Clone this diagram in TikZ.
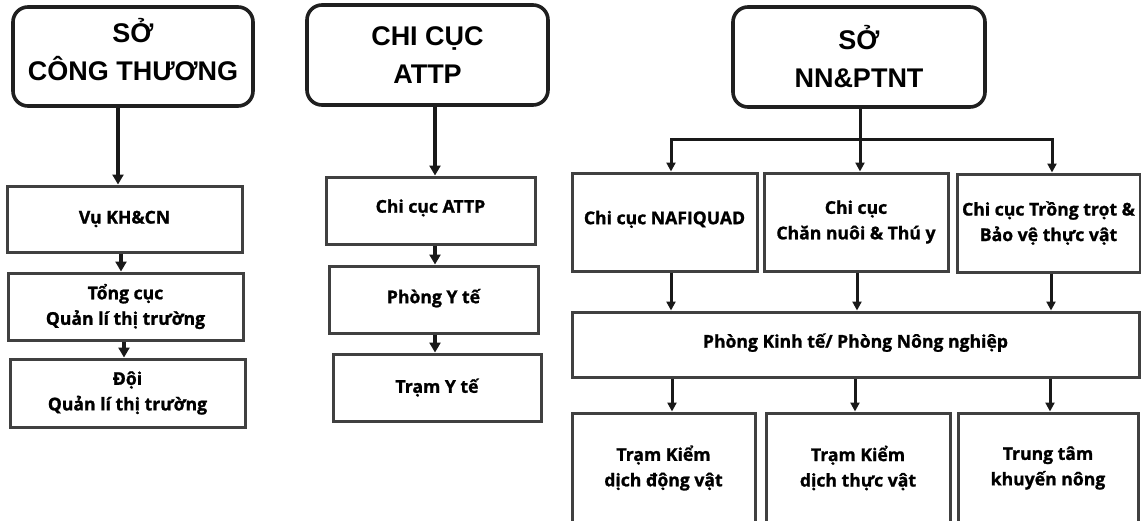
\documentclass[tikz,border=0pt]{standalone}
\usepackage{fontspec}
\setmainfont{Open Sans}[BoldFeatures={FakeBold=1.2}]
\newfontfamily\titlefont{Liberation Sans}
\usetikzlibrary{arrows.meta}
\begin{document}
\begin{tikzpicture}[x=1pt,y=-1pt,
  title/.style={draw=black!88, line width=3.6pt, rounded corners=15pt, align=center, inner sep=0pt,
    font=\titlefont\bfseries\fontsize{27}{38}\selectfont},
  unit/.style={draw=black!75, line width=3pt, align=center, inner sep=0pt,
    font=\bfseries\fontsize{17.6}{25.5}\selectfont},
  arr/.style={draw=black!90, line width=3.3pt, -{Triangle[length=10pt,width=11pt]}},
  arrs/.style={draw=black!90, line width=3pt, -{Triangle[length=9pt,width=9pt]}},
  ln/.style={draw=black!90, line width=3pt}
]
\useasboundingbox (0,0) rectangle (1141,520);
\fill[white] (0,0) rectangle (1141,520);
\clip (0,0) rectangle (1141,520);

% titles
\node[title, minimum width=240pt, minimum height=99pt, text depth=14pt] (sct) at (133,56.5) {SỞ\\CÔNG THƯƠNG};
\node[title, minimum width=241pt, minimum height=100pt] (attp) at (427.5,55) {CHI CỤC\\ATTP};
\node[title, minimum width=252pt, minimum height=100pt] (nn) at (859,57) {SỞ\\NN\&PTNT};

% left column
\node[unit, minimum width=235pt, minimum height=66pt] (l1) at (124.5,219) {Vụ KH\&CN};
\node[unit, minimum width=235pt, minimum height=67pt] (l2) at (125.5,306.5) {Tổng cục\\Quản lí thị trường};
\node[unit, minimum width=235pt, minimum height=68pt] (l3) at (127.5,393) {Đội\\Quản lí thị trường};

% middle column
\node[unit, minimum width=209pt, minimum height=67pt, text depth=9pt] (m1) at (430.5,210.5) {Chi cục ATTP};
\node[unit, minimum width=209pt, minimum height=67pt, text depth=7pt] (m2) at (433.5,299.5) {Phòng Y tế};
\node[unit, minimum width=208pt, minimum height=67pt] (m3) at (437,387.5) {Trạm Y tế};

% right column
\node[unit, minimum width=185pt, minimum height=98pt, text depth=9pt] (r1) at (664.5,222) {Chi cục NAFIQUAD};
\node[unit, minimum width=184pt, minimum height=98pt] (r2) at (856,222) {Chi cục\\Chăn nuôi \& Thú y};
\node[unit, minimum width=183pt, minimum height=98pt] (r3) at (1048.5,223) {Chi cục Trồng trọt \&\\Bảo vệ thực vật};
\node[unit, minimum width=567pt, minimum height=65pt, text depth=8pt] (pk) at (855.5,344.5) {Phòng Kinh tế/ Phòng Nông nghiệp};
\node[unit, minimum width=183pt, minimum height=110pt] (b1) at (663.5,468) {Trạm Kiểm\\dịch động vật};
\node[unit, minimum width=184pt, minimum height=110pt] (b2) at (858,468) {Trạm Kiểm\\dịch thực vật};
\node[unit, minimum width=180pt, minimum height=110pt] (b3) at (1048,468) {Trung tâm\\khuyến nông};

% left arrows
\draw[arr] ([xshift=-6.5pt]l1.north |- sct.south) -- ([xshift=-6.5pt]l1.north);
\draw[arr] ([xshift=-3.5pt]l1.south) -- ([xshift=-3.5pt]l1.south |- l2.north);
\draw[arr] ([xshift=-1.5pt]l2.south) -- ([xshift=-1.5pt]l2.south |- l3.north);

% middle arrows
\draw[arr] ([xshift=4.5pt]m1.north |- attp.south) -- ([xshift=4.5pt]m1.north);
\draw[arr] ([xshift=4.5pt]m1.south) -- ([xshift=4.5pt]m1.south |- m2.north);
\draw[arr] ([xshift=1.5pt]m2.south) -- ([xshift=1.5pt]m2.south |- m3.north);

% right tree
\coordinate (hub) at (860,139);
\draw[ln] (hub |- nn.south) -- (hub);
\draw[arrs] (hub) -| ([xshift=6.5pt]r1.north);
\draw[arrs] (hub) -- ([xshift=4pt]r2.north);
\draw[arrs] (hub) -| ([xshift=3.5pt]r3.north);

\draw[arrs] ([xshift=6.5pt]r1.south) -- ([xshift=6.5pt]r1.south |- pk.north);
\draw[arrs] ([xshift=1pt]r2.south) -- ([xshift=1pt]r2.south |- pk.north);
\draw[arrs] ([xshift=2.5pt]r3.south) -- ([xshift=2.5pt]r3.south |- pk.north);

\draw[arrs] ([xshift=8.5pt]b1.north |- pk.south) -- ([xshift=8.5pt]b1.north);
\draw[arrs] ([xshift=-3pt]b2.north |- pk.south) -- ([xshift=-3pt]b2.north);
\draw[arrs] ([xshift=2pt]b3.north |- pk.south) -- ([xshift=2pt]b3.north);
\end{tikzpicture}
\end{document}
